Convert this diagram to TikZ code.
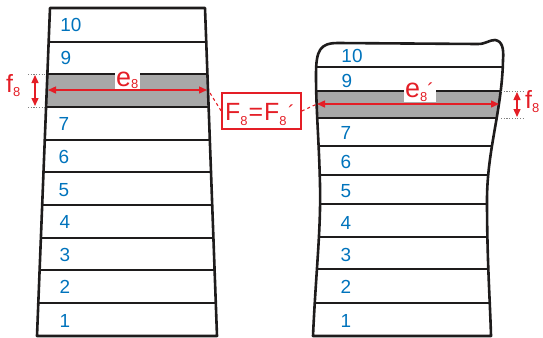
\documentclass[tikz,border=0pt]{standalone}
\usepackage{fontspec}
\setmainfont{Liberation Sans}
\usetikzlibrary{arrows.meta}
\definecolor{numblue}{RGB}{0,115,188}
\definecolor{dimred}{RGB}{228,30,38}
\definecolor{bandgray}{RGB}{168,168,168}
\definecolor{inkblack}{RGB}{30,28,28}
\newcommand\lowsub[2]{\raisebox{#1}{\fontsize{#2}{#2}\selectfont 8}}
\newcommand\acutemark{{\fontsize{20}{20}\selectfont\char"00B4}}
\tikzset{
  layerline/.style={draw=inkblack,line width=2.4bp},
  outline/.style={draw=inkblack,line width=2.6bp,line join=round},
  num/.style={text=numblue,font=\fontsize{19}{19}\selectfont,inner sep=0pt},
  dimarrow/.style={draw=dimred,line width=1.4bp,
    {Triangle[length=8bp,width=7bp]}-{Triangle[length=8bp,width=7bp]}},
  guide/.style={draw=gray,line width=0.9bp,dash pattern=on 1.2bp off 1.5bp},
  link/.style={draw=dimred,line width=1.1bp,dash pattern=on 3bp off 3bp},
  lbl/.style={text=dimred,inner sep=0pt},
  framebox/.style={draw=dimred,line width=1.6bp,minimum width=79bp,minimum height=36bp,inner sep=0pt},
}
\begin{document}
\begin{tikzpicture}[x=1bp,y=-1bp]
\useasboundingbox (0,0) rectangle (543,337);

% ---- left stack (straight tapered column) ----
\begin{scope}
  \clip (50,8) -- (205,8) -- (217,336) -- (37,336) -- cycle;
  \fill[bandgray] (0,74) rectangle (260,107);
  \foreach \y in {42,74,107,140,172,205,238,270,303}
    \draw[layerline] (0,\y) -- (260,\y);
\end{scope}
\draw[outline] (50,8) -- (205,8) -- (217,336) -- (37,336) -- cycle;

% ---- right stack (deformed column) ----
\def\rightshape{(313,336) .. controls (316,270) and (321,230) .. (320,185)
  .. controls (319,140) and (316,110) .. (316,75)
  .. controls (316,50) and (320,43) .. (338,43) -- (478,44)
  .. controls (486,44) and (489,40) .. (495,40)
  .. controls (502,41) and (504,48) .. (503,60)
  .. controls (502,110) and (487,150) .. (487,200)
  .. controls (487,260) and (490,300) .. (491,336) -- cycle}
\begin{scope}
  \clip \rightshape;
  \fill[bandgray] (300,91) rectangle (520,118);
  \foreach \y in {67,91,118,146,175,204,237,269,303}
    \draw[layerline] (300,\y) -- (520,\y);
\end{scope}
\draw[outline] \rightshape;

% ---- layer numbers ----
\node[num] (l10) at (71,25) {10};
\node[num] (l9) at (66,58) {9};
\node[num] (l7) at (64,124) {7};
\node[num] (l6) at (64,157) {6};
\node[num] (l5) at (64,190) {5};
\node[num] (l4) at (65,222) {4};
\node[num] (l3) at (65,255) {3};
\node[num] (l2) at (65,287) {2};
\node[num] (l1) at (65,321) {1};

\node[num] (r10) at (352,56) {10};
\node[num] (r9) at (347,81) {9};
\node[num] (r7) at (346,133) {7};
\node[num] (r6) at (346,162) {6};
\node[num] (r5) at (346,191) {5};
\node[num] (r4) at (346,223) {4};
\node[num] (r3) at (346,255) {3};
\node[num] (r2) at (346,287) {2};
\node[num] (r1) at (346,321) {1};

% ---- widths e8 and e8' ----
\coordinate (eLa) at (48,90);
\coordinate (eLb) at (207,90);
\draw[dimarrow] (eLa) -- (eLb);
\node[lbl,fill=white,inner sep=1bp,anchor=base west] (eL) at (115,86)
  {\fontsize{27}{27}\selectfont e\lowsub{-2bp}{13}\kern1bp};

\coordinate (eRa) at (317,104);
\coordinate (eRb) at (499,104);
\draw[dimarrow] (eRa) -- (eRb);
\node[lbl,fill=white,inner sep=1bp,anchor=base west] (eR) at (404,97)
  {\fontsize{27}{27}\selectfont e\lowsub{-4bp}{13}\acutemark\kern1bp};

% ---- thicknesses f8 ----
\coordinate (gLa) at (28,74);  \coordinate (gLb) at (45,74);
\coordinate (gLc) at (28,107); \coordinate (gLd) at (45,107);
\draw[guide] (gLa) -- (gLb);
\draw[guide] (gLc) -- (gLd);
\coordinate (fLa) at (35,75);
\coordinate (fLb) at (35,106);
\draw[dimarrow] (fLa) -- (fLb);
\node[lbl,anchor=base west] (fL) at (6,92)
  {\fontsize{25}{25}\selectfont f\lowsub{-4bp}{13}};

\coordinate (gRa) at (501,91);  \coordinate (gRb) at (525,91);
\coordinate (gRc) at (501,118); \coordinate (gRd) at (525,118);
\draw[guide] (gRa) -- (gRb);
\draw[guide] (gRc) -- (gRd);
\coordinate (fRa) at (517,92);
\coordinate (fRb) at (517,117);
\draw[dimarrow] (fRa) -- (fRb);
\node[lbl,anchor=base west] (fR) at (525,108)
  {\fontsize{25}{25}\selectfont f\lowsub{-4bp}{13}};

% ---- equality of the layer areas ----
\node[framebox] (fbox) at (261.5,111) {};
\node[lbl,anchor=base west] (ftext) at (225,120)
  {\fontsize{25}{25}\selectfont F\lowsub{-5bp}{13}\kern1bp=\kern1bp F\lowsub{-5bp}{13}\kern1.5bp\raisebox{1bp}{\acutemark}};
\coordinate (lkL) at (210,93);
\draw[link] (lkL) -- (fbox.west);
\draw[link] (fbox.east) -- (eRa);
\end{tikzpicture}
\end{document}
